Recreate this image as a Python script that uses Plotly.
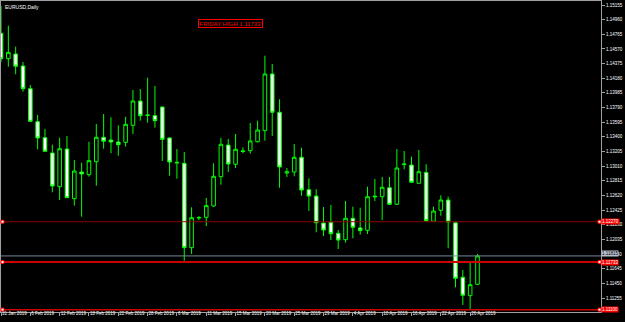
import plotly.graph_objects as go

# ---- data (EURUSD daily) ----
opens = [1.14778,1.14440,1.14503,1.14343,1.14041,1.13602,1.13389,1.13185,1.12737,1.13238,
         1.12577,1.12932,1.12896,1.13069,1.13394,1.13358,1.13331,1.13327,1.13554,1.13877,
         1.13691,1.13682,1.13797,1.13385,1.13052,1.13048,1.11925,1.12320,1.12329,1.12480,
         1.12870,1.13291,1.13035,1.13205,1.13216,1.13335,1.13482,1.14237,1.13727,1.12918,
         1.12932,1.13128,1.12696,1.12612,1.12253,1.12263,1.12116,1.12031,1.12316,1.12187,
         1.12156,1.12600,1.12603,1.12723,1.12502,1.13030,1.13025,1.12782,1.12926,1.12276,
         1.12422,1.12559,1.12257,1.11531,1.11286,1.11437]
highs = [1.15140,1.14880,1.14600,1.14396,1.14090,1.13691,1.13505,1.13296,1.13389,1.13411,
         1.13092,1.13056,1.13335,1.13571,1.13704,1.13660,1.13554,1.13668,1.14024,1.14037,
         1.14187,1.14077,1.13801,1.13394,1.13238,1.13198,1.12462,1.12346,1.12586,1.13048,
         1.13385,1.13371,1.13438,1.13261,1.13584,1.13615,1.14480,1.14370,1.13900,1.12985,
         1.13305,1.13256,1.12848,1.12703,1.12466,1.12493,1.12160,1.12546,1.12470,1.12457,
         1.12737,1.12839,1.12866,1.12866,1.13238,1.13212,1.13136,1.13225,1.13035,1.12470,
         1.12622,1.12603,1.12271,1.11628,1.11733,1.11841]
lows = [1.14395,1.14334,1.14233,1.14001,1.13602,1.13234,1.13202,1.12662,1.12559,1.12586,
        1.12484,1.12337,1.12870,1.12750,1.13242,1.13181,1.13149,1.13269,1.13438,1.13615,
        1.13588,1.13522,1.13079,1.12883,1.12843,1.11751,1.11841,1.12293,1.12213,1.12470,
        1.12763,1.12932,1.12985,1.13181,1.13176,1.13327,1.13349,1.13411,1.12723,1.12866,
        1.12875,1.12617,1.12413,1.12130,1.12080,1.12027,1.11907,1.11991,1.12050,1.12098,
        1.12107,1.12546,1.12293,1.12493,1.12493,1.12968,1.12790,1.12782,1.12267,1.12271,
        1.12350,1.11917,1.11397,1.11162,1.11095,1.11428]
closes = [1.14440,1.14525,1.14339,1.14041,1.13607,1.13385,1.13208,1.12746,1.13242,1.12590,
          1.12945,1.12906,1.13083,1.13394,1.13341,1.13331,1.13296,1.13567,1.13877,1.13682,
          1.13687,1.13615,1.13367,1.13065,1.13060,1.11925,1.12324,1.12326,1.12484,1.12875,
          1.13301,1.13039,1.13234,1.13212,1.13345,1.13491,1.14237,1.13727,1.12999,1.12935,
          1.13128,1.12692,1.12612,1.12257,1.12160,1.12111,1.12027,1.12316,1.12196,1.12151,
          1.12603,1.12609,1.12729,1.12502,1.12985,1.13038,1.12795,1.12936,1.12284,1.12413,
          1.12559,1.12267,1.11517,1.11291,1.11432,1.11815]

date_labels = ["31 Jan 2019", "6 Feb 2019", "12 Feb 2019", "18 Feb 2019", "22 Feb 2019",
               "28 Feb 2019", "6 Mar 2019", "11 Mar 2019", "15 Mar 2019", "20 Mar 2019",
               "25 Mar 2019", "29 Mar 2019", "4 Apr 2019", "10 Apr 2019", "16 Apr 2019",
               "22 Apr 2019", "26 Apr 2019"]
label_every = 4

price_ticks = [1.15155, 1.14960, 1.14765, 1.14570, 1.14375, 1.14180, 1.13985, 1.13790,
               1.13595, 1.13400, 1.13205, 1.13010, 1.12815, 1.12620, 1.12425, 1.12230,
               1.12035, 1.11840, 1.11645, 1.11450, 1.11255]

level_prices = [1.12270, 1.11733, 1.11100]
level_colors = ["#8B0000", "#CC0000", "#CC0000"]
level_widths = [1, 2, 1.5]
bid_price = 1.11815
friday_text = "FRIDAY HIGH 1.11733"
title_text = "EURUSD,Daily"

y_range = [1.110686, 1.152083]
x_range = [0, 81.85]

bars = list(range(len(opens)))

fig = go.Figure()
fig.add_trace(go.Candlestick(
    x=bars, open=opens, high=highs, low=lows, close=closes,
    increasing=dict(line=dict(color="#00FF00", width=1), fillcolor="#000000"),
    decreasing=dict(line=dict(color="#00FF00", width=1), fillcolor="#FFFFFF"),
    whiskerwidth=0, showlegend=False, hoverinfo="skip",
))

shapes = []
annotations = []
for p, c, w in zip(level_prices, level_colors, level_widths):
    shapes.append(dict(type="line", xref="paper", x0=0, x1=1, yref="y", y0=p, y1=p,
                       line=dict(color=c, width=w), layer="above"))
    for xa, xo in ((0, (0, 3)), (1, (-3, 0))):
        shapes.append(dict(type="rect", xref="paper", xsizemode="pixel", xanchor=xa,
                           x0=xo[0], x1=xo[1], yref="y", ysizemode="pixel", yanchor=p,
                           y0=-1.5, y1=1.5, fillcolor="#FFFFFF",
                           line=dict(color="#FF0000", width=1), layer="above"))
    annotations.append(dict(xref="paper", x=1, xanchor="left", yref="y", y=p,
                            yanchor="middle", text=f"{p:.5f}", showarrow=False,
                            bgcolor="#FF0000", borderpad=0,
                            font=dict(family="Liberation Sans", size=4.5, color="#FFFFFF")))

shapes.append(dict(type="line", xref="paper", x0=0, x1=1, yref="y", y0=bid_price, y1=bid_price,
                   line=dict(color="#778899", width=1), layer="above"))
annotations.append(dict(xref="paper", x=1, xanchor="left", yref="y", y=bid_price,
                        yanchor="middle", yshift=2, text=f"{bid_price:.5f}", showarrow=False,
                        bgcolor="#B8C0D0", borderpad=0,
                        font=dict(family="Liberation Sans", size=4.5, color="#000000")))

annotations.append(dict(xref="paper", x=0, xshift=2, xanchor="left", yref="paper", y=1,
                        yshift=-1, yanchor="top", text=title_text, showarrow=False,
                        font=dict(family="Liberation Sans", size=5, color="#FFFFFF")))
annotations.append(dict(xref="paper", x=0.3817, xanchor="center", yref="paper", y=0.9277,
                        yanchor="middle", text=friday_text, showarrow=False,
                        bordercolor="#FF0000", borderwidth=1, borderpad=0.5,
                        font=dict(family="Liberation Sans", size=6, color="#FF0000")))

fig.update_layout(
    width=625, height=322,
    margin=dict(l=1, r=24, t=1, b=10, pad=0),
    paper_bgcolor="#000000", plot_bgcolor="#000000",
    shapes=shapes, annotations=annotations,
    showlegend=False,
    xaxis=dict(range=x_range, rangeslider=dict(visible=False), showgrid=False,
               zeroline=False, showline=True, mirror=True, linecolor="#A0A0A0", linewidth=1,
               tickmode="array", tickvals=[i * label_every for i in range(len(date_labels))],
               ticktext=date_labels, ticks="outside", ticklen=3, tickcolor="#A0A0A0",
               tickangle=0, ticklabelposition="outside right", ticklabelstandoff=-3,
               automargin=False,
               tickfont=dict(family="Liberation Sans", size=4.5, color="#FFFFFF")),
    yaxis=dict(range=y_range, side="right", showgrid=False, zeroline=False,
               showline=True, mirror=True, linecolor="#A0A0A0", linewidth=1,
               tickmode="array", tickvals=price_ticks,
               ticktext=[f"{v:.5f}" for v in price_ticks],
               ticks="outside", ticklen=3, tickcolor="#A0A0A0", automargin=False,
               tickfont=dict(family="Liberation Sans", size=4.5, color="#FFFFFF")),
)

fig.write_html("out.html")
